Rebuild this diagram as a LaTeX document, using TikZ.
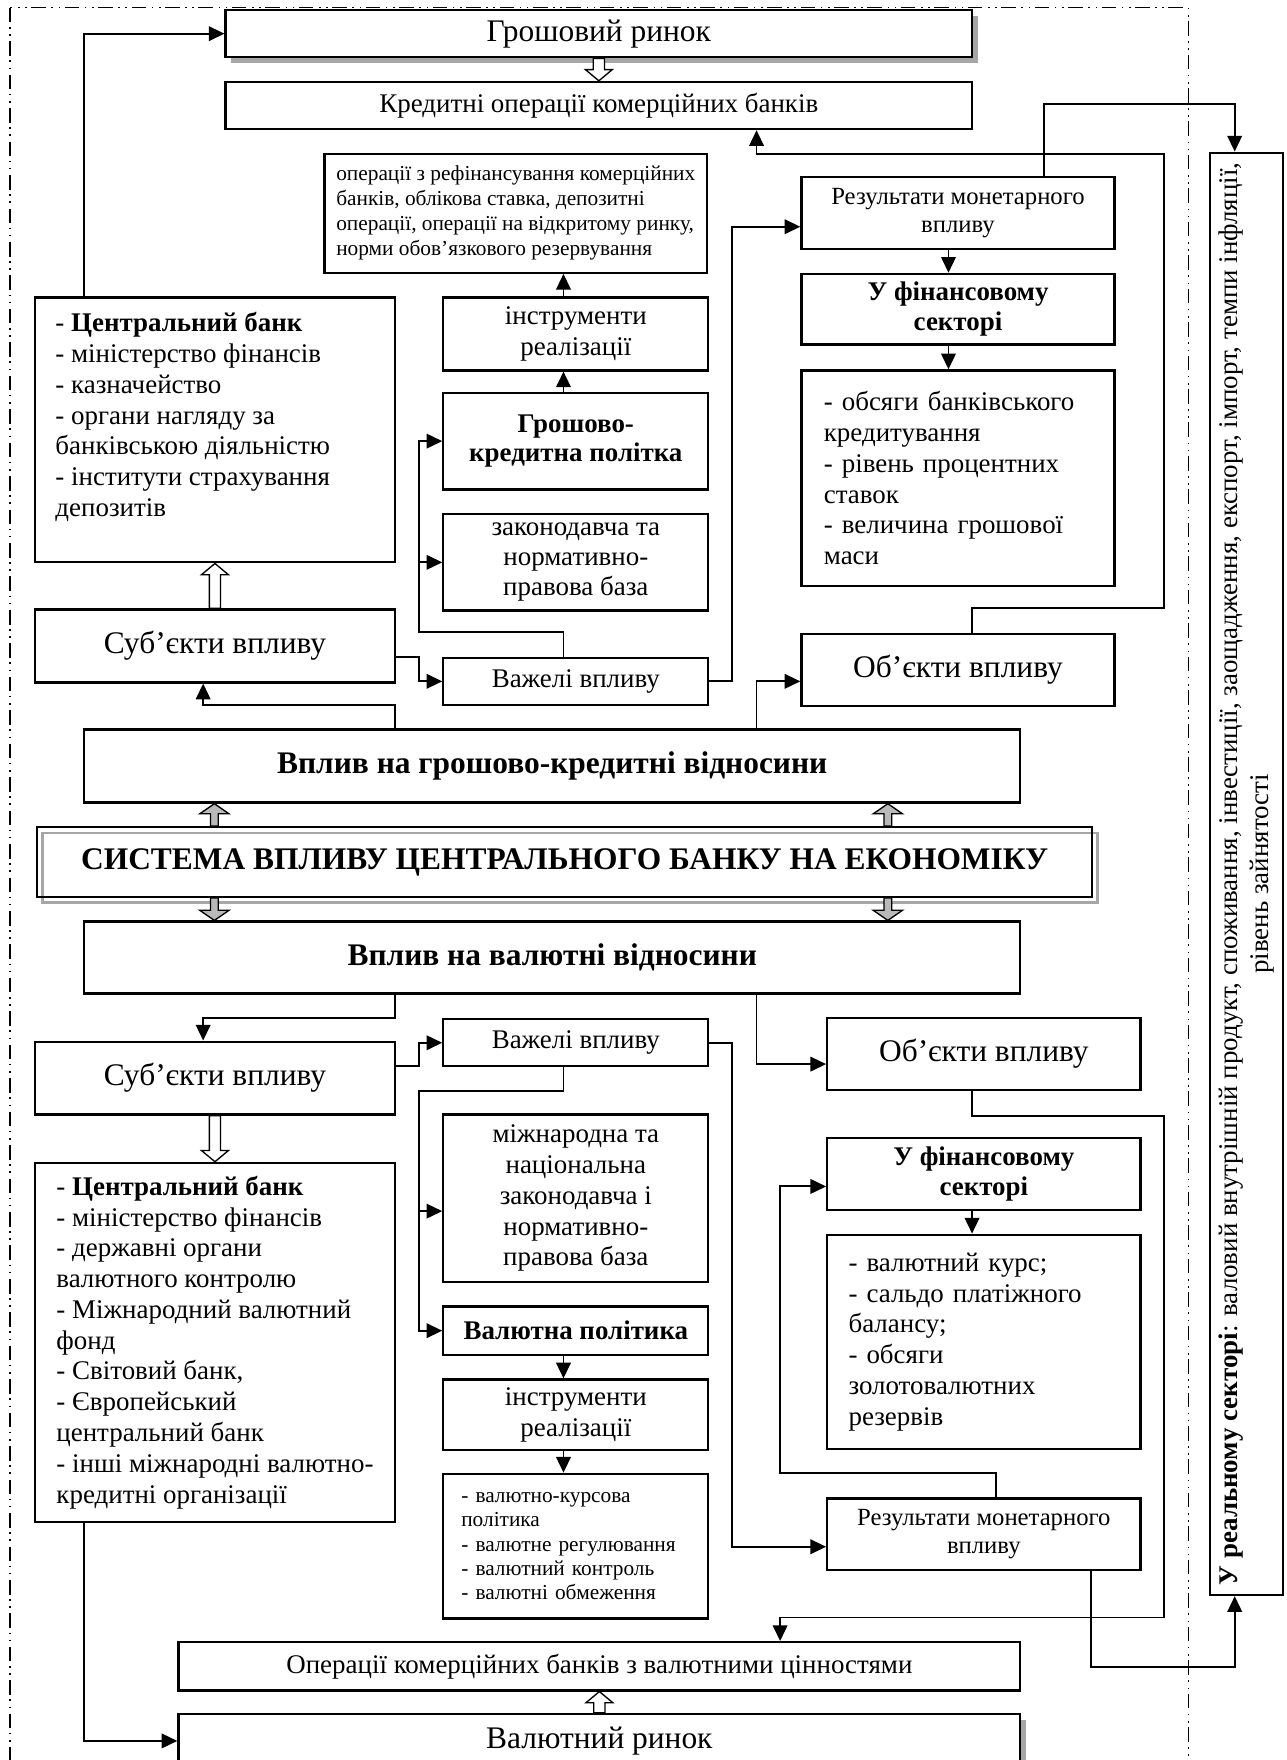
\documentclass[tikz,border=0pt]{standalone}
\usepackage{fontspec}
\setmainfont{Liberation Serif}
\usetikzlibrary{arrows.meta,calc,shadows}

\newcommand\fsz[2]{\fontsize{#1}{#2}\selectfont}

\tikzset{
  blk/.style={draw, line width=1pt, fill=white, inner sep=2pt, align=center, font=\fsz{12}{13.7}},
  lst/.style={blk, align=left, inner xsep=0pt},
  colL/.style={blk, minimum width=160.5pt},
  colM/.style={blk, minimum width=118pt},
  colR/.style={blk, minimum width=139.5pt},
  arr/.style={line width=0.85pt, -{Triangle[length=7pt,width=6.5pt]}},
  outerframe/.style={line width=0.55pt, dash pattern=on 6.5pt off 2pt on 0.7pt off 2.5pt on 0.7pt off 2.5pt},
  fat arrow/.style n args={3}{to path={let \p1=(\tikztostart), \p2=(\tikztotarget), \n1={(\y2>\y1)?1:-1} in
      (\x1-#1,\y1) -- (\x1-#1,\y2-\n1*#3) -- (\x1-#2,\y2-\n1*#3) -- (\x2,\y2)
      -- (\x1+#2,\y2-\n1*#3) -- (\x1+#1,\y2-\n1*#3) -- (\x1+#1,\y1) -- cycle}},
  hollow/.style={fat arrow={2.5pt}{6pt}{5pt}, draw, fill=white, line width=0.6pt},
  greyarr/.style={fat arrow={1.75pt}{6.5pt}{4.5pt}, draw, fill=gray!55, line width=0.6pt},
  boxshadow/.style={general shadow={fill=gray!70, shadow xshift=2.5pt, shadow yshift=-2.5pt}},
}

\begin{document}
\begin{tikzpicture}[x=0.5pt, y=-0.5pt]
    \useasboundingbox (0,0) rectangle (1146,1568);

    % dash-dotted frame round the central bank block
    \draw[outerframe] (9,7) rectangle (1059,1640);

    % columns used by the connectors
    \coordinate (xL) at (75,0);
    \coordinate (xS) at (181,0);
    \coordinate (xH) at (191,0);
    \coordinate (xK) at (352,0);
    \coordinate (xA) at (373,0);
    \coordinate (xM) at (502,0);
    \coordinate (xB) at (652,0);
    \coordinate (xV) at (674,0);
    \coordinate (xF) at (695,0);
    \coordinate (xG) at (791,0);
    \coordinate (xR) at (845,0);
    \coordinate (xO) at (866,0);
    \coordinate (xQ) at (887,0);
    \coordinate (xP) at (930,0);
    \coordinate (xZ) at (972,0);
    \coordinate (xE) at (1037,0);
    \coordinate (xT) at (1100,0);

    % money market part
    \node[blk, boxshadow, minimum width=332.5pt, minimum height=21pt, font=\fsz{14}{16}] (grm) at (533.5,30) {Грошовий ринок};
    \node[blk, minimum width=332.5pt, minimum height=21pt] (kred) at (533.5,94) {Кредитні операції комерційних банків};
    \node[lst, minimum width=170.5pt, minimum height=53pt, font=\fsz{9.5}{11.15}] (refin) at (459.5,190) {операції з рефінансування комерційних\\ банків, облікова ставка, депозитні\\ операції, операції на відкритому ринку,\\ норми обов’язкового резервування};
    \node[colM, minimum height=32.5pt] (instr1) at (513,297.5) {інструменти\\ реалізації};
    \node[colM, minimum height=43pt, font=\fsz{12}{12.6}\bfseries] (gkp) at (513,393) {Грошово-\\ кредитна політка};
    \node[colM, minimum height=43pt, font=\fsz{12}{13.4}] (zak) at (513,501) {законодавча та\\ нормативно-\\ правова база};
    \node[colM, minimum height=21pt] (vaz1) at (513,607) {Важелі впливу};

    \node[colL, minimum height=118pt] (cb1) at (191.5,383) {};
    \node[anchor=north west, align=left, inner sep=0pt, font=\fsz{12}{13.7}] (cb1t) at ([xshift=9.5pt,yshift=-7pt]cb1.north west) {- \textbf{Центральний банк}\\ - міністерство фінансів\\ - казначейство\\ - органи нагляду за\\ банківською діяльністю\\ - інститути страхування\\ депозитів};
    \node[colL, minimum height=32.5pt, font=\fsz{14}{16}] (sub1) at (191.5,575.5) {Суб’єкти впливу};

    \node[colR, minimum height=32pt, font=\fsz{11}{12.4}] (res1) at (853.5,190) {Результати монетарного\\ впливу};
    \node[colR, minimum height=31.5pt, font=\fsz{12}{13.2}\bfseries] (fin1) at (853.5,275.5) {У фінансовому\\ секторі};
    \node[colR, lst, text width=119.5pt, minimum height=96pt] (obs) at (853.5,426) {- обсяги банківського\\ кредитування\\ - рівень процентних\\ ставок\\ - величина грошової\\ маси};
    \node[colR, minimum height=32pt, font=\fsz{14}{16}] (obj1) at (853.5,597) {Об’єкти впливу};

    % centre
    \node[blk, minimum width=417pt, minimum height=32.5pt, font=\fsz{14}{16}\bfseries] (vgk) at (492,682.5) {Вплив на грошово-кредитні відносини};
    \node[blk, fill=none, minimum width=470pt, minimum height=31pt, font=\fsz{14}{16}\bfseries,
          general shadow={draw=gray!70, line width=1.2pt, shadow xshift=2.5pt, shadow yshift=-2.5pt}] (sys) at (503,768) {СИСТЕМА ВПЛИВУ ЦЕНТРАЛЬНОГО БАНКУ НА ЕКОНОМІКУ};
    \node[blk, minimum width=417pt, minimum height=32pt, font=\fsz{14}{16}\bfseries] (vval) at (492,853) {Вплив на валютні відносини};

    % currency market part
    \node[colL, minimum height=32.5pt, font=\fsz{14}{16}] (sub2) at (191.5,960.5) {Суб’єкти впливу};
    \node[colL, lst, minimum height=160pt] (cb2) at (191.5,1196) {- \textbf{Центральний банк}\\ - міністерство фінансів\\ - державні органи\\ валютного контролю\\ - Міжнародний валютний\\ фонд\\ - Світовий банк,\\ - Європейський\\ центральний банк\\ - інші міжнародні валютно-\\ кредитні організації};

    \node[colM, minimum height=21pt] (vaz2) at (513,929) {Важелі впливу};
    \node[colM, minimum height=74.5pt] (mizh) at (513,1067.5) {міжнародна та\\ національна\\ законодавча і\\ нормативно-\\ правова база};
    \node[colM, minimum height=21.5pt, font=\fsz{12}{13.7}\bfseries] (vpol) at (513,1185.5) {Валютна політика};
    \node[colM, minimum height=31.5pt] (instr2) at (513,1260.5) {інструменти\\ реалізації};
    \node[colM, lst, text width=102pt, minimum height=64.5pt, font=\fsz{9.5}{10.85}] (vkp) at (513,1377.5) {- валютно-курсова\\ політика\\ - валютне регулювання\\ - валютний контроль\\ - валютні обмеження};

    \node[colR, minimum height=32pt, font=\fsz{14}{16}] (obj2) at (876.5,939) {Об’єкти впливу};
    \node[colR, minimum height=32pt, font=\fsz{12}{13.2}\bfseries] (fin2) at (876.5,1046) {У фінансовому\\ секторі};
    \node[colR, lst, text width=120.5pt, minimum height=95.5pt] (vkurs) at (876.5,1195.5) {- валютний курс;\\ - сальдо платіжного\\ балансу;\\ - обсяги\\ золотовалютних\\ резервів};
    \node[colR, minimum height=32pt, font=\fsz{11}{12.4}] (res2) at (876.5,1367) {Результати монетарного\\ впливу};

    \node[blk, minimum width=375pt, minimum height=21.5pt] (opval) at (534,1484.5) {Операції комерційних банків з валютними цінностями};
    \node[blk, boxshadow, minimum width=375pt, minimum height=24pt, font=\fsz{14}{16}] (vrn) at (534,1551) {Валютний ринок};

    % real sector
    \node[blk, minimum width=32.5pt, minimum height=642.5pt] (real) at (1110.5,778.5) {};
    \node[rotate=90, align=center, inner sep=0pt, font=\fsz{12}{13.7}] (realt) at (real.center) {\textbf{У реальному секторі}: валовий внутрішній продукт, споживання, інвестиції, заощадження, експорт, імпорт, темпи інфляції,\\ рівень зайнятості};

    % entry points off the box middles
    \coordinate (res1in) at ([yshift=-6pt]res1.west);
    \coordinate (obj1in) at ([yshift=-5pt]obj1.west);
    \coordinate (kredrow) at ([yshift=-10.5pt]kred.south);
    \coordinate (mizhin) at ([yshift=-5.75pt]mizh.west);
    \coordinate (res2in) at ([yshift=-5.5pt]res2.west);
    \coordinate (obj2in) at ([yshift=-4.5pt]obj2.west);
    \coordinate (fin2in) at ([yshift=-5.5pt]fin2.west);
    \coordinate (oprow) at ([yshift=10.5pt]opval.north);

    % block arrows
    \draw[hollow] (grm.south) to (kred.north);
    \draw[hollow] (sub1.north) to (cb1.south);
    \draw[hollow] (sub2.south) to (cb2.north);
    \draw[hollow] (vrn.north) to (opval.south);
    \foreach \c in {xH, xG} {
        \draw[greyarr] (sys.north -| \c) to (vgk.south -| \c);
        \draw[greyarr] (sys.south -| \c) to (vval.north -| \c);
    }

    % upper connectors
    \draw[arr] (cb1.north -| xL) |- (grm.west);
    \draw[arr] (vgk.north -| xK) -- ++(0,-21) -| (sub1.south -| xS);
    \draw[arr] ([yshift=-5pt]sub1.east) -| (xA |- vaz1.west) -- (vaz1.west);
    \draw[arr] (vaz1.north -| xM) -- ++(0,-22) -| (xA |- gkp.west) -- (gkp.west);
    \draw[arr] (xA |- zak.west) -- (zak.west);
    \draw[arr] (gkp.north -| xM) -- (instr1.south -| xM);
    \draw[arr] (instr1.north -| xM) -- (refin.south -| xM);
    \draw[arr] (vaz1.east) -| (xB |- res1in) -- (res1in);
    \draw[arr] (vgk.north -| xV) |- (obj1in);
    \draw[arr] (obj1.north -| xO) -- ++(0,-22) -| (xE |- kredrow) -| (kred.south -| xV);
    \draw[arr] (res1.north -| xP) -- ++(0,-64) -| (real.north -| xT);
    \draw[arr] (res1.south -| xR) -- (fin1.north -| xR);
    \draw[arr] (fin1.south -| xR) -- (obs.north -| xR);

    % lower connectors
    \draw[arr] (vval.south -| xK) -- ++(0,21) -| (sub2.north -| xS);
    \draw[arr] ([yshift=5.5pt]sub2.east) -| (xA |- vaz2.west) -- (vaz2.west);
    \draw[arr] (vaz2.south -| xM) -- ++(0,21) -| (xA |- vpol.west) -- (vpol.west);
    \draw[arr] (xA |- mizhin) -- (mizhin);
    \draw[arr] (vpol.south -| xM) -- (instr2.north -| xM);
    \draw[arr] (instr2.south -| xM) -- (vkp.north -| xM);
    \draw[arr] (vaz2.east) -| (xB |- res2in) -- (res2in);
    \draw[arr] (vval.south -| xV) |- (obj2in);
    \draw[arr] (obj2.south -| xO) -- ++(0,22) -| (xE |- oprow) -| (opval.north -| xF);
    \draw[arr] (res2.north -| xQ) -- ++(0,-22) -| (xF |- fin2in) -- (fin2in);
    \draw[arr] (fin2.south -| xO) -- (vkurs.north -| xO);
    \draw[arr] (res2.south -| xZ) -- ++(0,85) -| (real.south -| xT);
    \draw[arr] (cb2.south -| xL) |- (vrn.west);
\end{tikzpicture}
\end{document}
